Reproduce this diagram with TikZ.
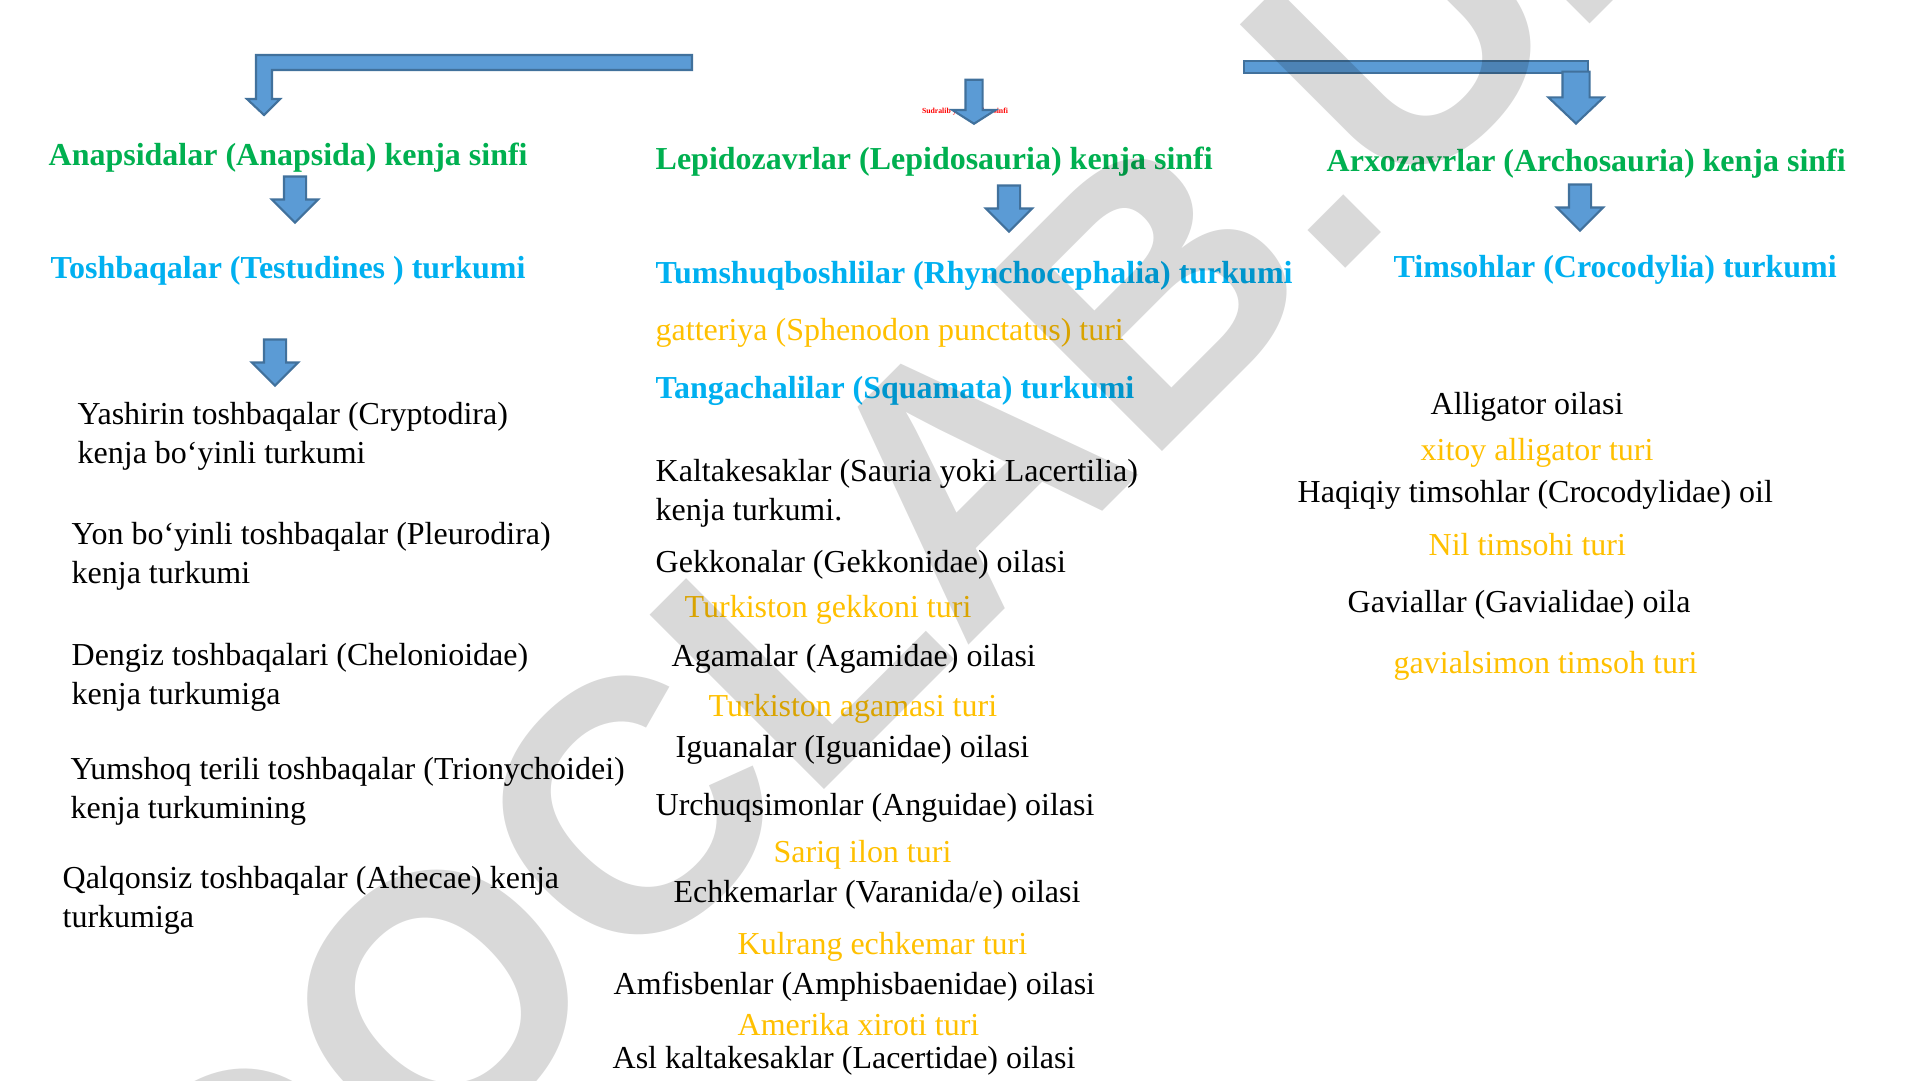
\documentclass[tikz,border=0pt]{standalone}
\usepackage{fontspec}
\setmainfont{Liberation Serif}
\newfontfamily\wmfont{Liberation Sans}
\usetikzlibrary{shapes.arrows}
\definecolor{subgreen}{HTML}{00B050}
\definecolor{ordblue}{HTML}{00B0F0}
\definecolor{speciesyel}{HTML}{FFC000}
\definecolor{arrfill}{HTML}{5B9BD5}
\definecolor{arrline}{HTML}{41719C}
\begin{document}
\begin{tikzpicture}[x=0.1mm,y=-0.1mm,
            every node/.style={inner sep=0pt,font=\fontsize{9.1}{11.1}\selectfont},
            subclass/.style={anchor=west,text=subgreen,font=\fontsize{9.1}{11.1}\selectfont\bfseries},
            order/.style={anchor=west,text=ordblue,font=\fontsize{9.1}{11.1}\selectfont\bfseries},
            family/.style={anchor=west,align=left,text=black},
            species/.style={anchor=west,text=speciesyel},
            blockarr/.style={single arrow,draw=arrline,fill=arrfill,line width=0.6pt,
              shape border rotate=270,anchor=tip,inner sep=1mm,minimum height=4.6mm,minimum width=4.4mm,
              single arrow head extend=1.2mm,single arrow tip angle=90},
            wmark/.style={font=\wmfont\bfseries\fontsize{102}{102}\selectfont,text=black,
              text opacity=0.15,rotate=45,anchor=base west}]
            \useasboundingbox (0,0) rectangle (1920,1080);
            \fill [white] (0,0) rectangle (1920,1080);
            \node [text=red,font=\fontsize{2.2}{2.6}\selectfont\bfseries] (sinf) at (965,112) {Sudralib yuruvchilar sinfi};
            \filldraw [fill=arrfill,draw=arrline,line width=0.6pt] (692,55) -- (256,55) -- (256,99) -- (247,99) -- (264,115) -- (280,99) -- (272,99) -- (272,70) -- (692,70) -- cycle;
            \filldraw [fill=arrfill,draw=arrline,line width=0.6pt] (1244,61) rectangle (1588,73);
            \node [blockarr,inner sep=0.75mm,minimum height=4.4mm,minimum width=4.1mm,single arrow head extend=1.3mm,single arrow tip angle=115] (topmid) at (974,125) {};
            \node [blockarr,inner sep=1.25mm,minimum height=5.2mm,minimum width=5.3mm,single arrow head extend=1.4mm,single arrow tip angle=93] (topright) at (1576,125) {};
            \node [subclass] (anapsida) at (48,158) {Anapsidalar (Anapsida) kenja sinfi};
            \node [blockarr] (anapsidaarr) at (295,224) {};
            \node [order] (testud) at (50,271) {Toshbaqalar (Testudines ) turkumi};
            \node [blockarr] (testudarr) at (275,387) {};
            \node [family] (crypto) at (77,436) {Yashirin toshbaqalar (Cryptodira)\\kenja bo‘yinli turkumi};
            \node [family] (pleuro) at (71,556) {Yon bo‘yinli toshbaqalar (Pleurodira)\\kenja turkumi};
            \node [family] (chelon) at (71,677) {Dengiz toshbaqalari (Chelonioidae)\\kenja turkumiga};
            \node [family] (trionyx) at (70,791) {Yumshoq terili toshbaqalar (Trionychoidei)\\kenja turkumining};
            \node [family] (athecae) at (62,900) {Qalqonsiz toshbaqalar (Athecae) kenja\\turkumiga};
            \node [subclass] (lepido) at (655,162) {Lepidozavrlar (Lepidosauria) kenja sinfi};
            \node [blockarr] (lepidoarr) at (1009,233) {};
            \node [order] (rhyncho) at (655,276) {Tumshuqboshlilar (Rhynchocephalia) turkumi};
            \node [species] (gatteriya) at (655,333) {gatteriya (Sphenodon punctatus) turi};
            \node [order] (squamata) at (655,391) {Tangachalilar (Squamata) turkumi};
            \node [family] (sauria) at (655,493) {Kaltakesaklar (Sauria yoki Lacertilia)\\kenja turkumi.};
            \node [family] (gekkon) at (655,565) {Gekkonalar (Gekkonidae) oilasi};
            \node [species] (gekturi) at (684,610) {Turkiston gekkoni turi};
            \node [family] (agamid) at (671,659) {Agamalar (Agamidae) oilasi};
            \node [species] (agaturi) at (708,709) {Turkiston agamasi turi};
            \node [family] (iguan) at (675,750) {Iguanalar (Iguanidae) oilasi};
            \node [family] (anguid) at (655,808) {Urchuqsimonlar (Anguidae) oilasi};
            \node [species] (sariq) at (773,855) {Sariq ilon turi};
            \node [family] (varanid) at (673,895) {Echkemarlar (Varanida/e) oilasi};
            \node [species] (kulrang) at (737,947) {Kulrang echkemar turi};
            \node [family] (amphis) at (613,987) {Amfisbenlar (Amphisbaenidae) oilasi};
            \node [species] (xiroti) at (737,1025) {Amerika xiroti turi};
            \node [family] (lacert) at (612,1061) {Asl kaltakesaklar (Lacertidae) oilasi};
            \node [subclass] (archo) at (1326,164) {Arxozavrlar (Archosauria) kenja sinfi};
            \node [blockarr] (archoarr) at (1580,232) {};
            \node [order] (croco) at (1393,270) {Timsohlar (Crocodylia) turkumi};
            \node [family] (allig) at (1430,407) {Alligator oilasi};
            \node [species] (xitoy) at (1420,453) {xitoy alligator turi};
            \node [family] (crocodyl) at (1297,495) {Haqiqiy timsohlar (Crocodylidae) oil};
            \node [species] (nil) at (1428,545) {Nil timsohi turi};
            \node [family] (gavial) at (1347,605) {Gaviallar (Gavialidae) oila};
            \node [species] (gavturi) at (1393,666) {gavialsimon timsoh turi};
            \begin{scope}
            \clip (0,0) rectangle (1920,1080);
            \node [wmark] (wm) at (244,1370) {DOCLAB.UZ};
            \end{scope}
        \end{tikzpicture}
\end{document}
